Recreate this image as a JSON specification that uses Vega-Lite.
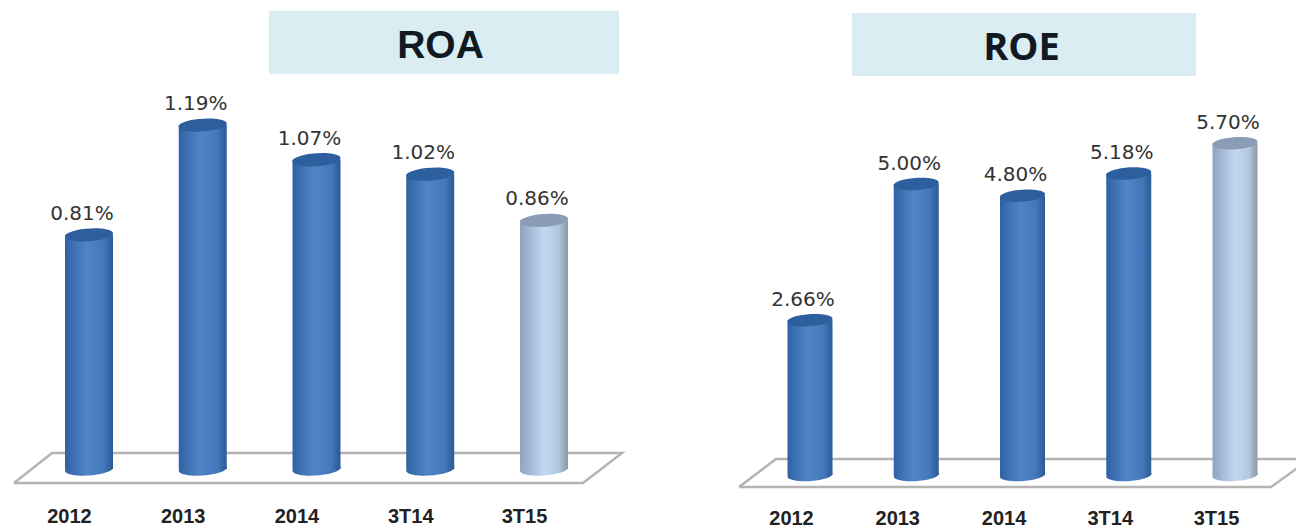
{"$schema":"https://vega.github.io/schema/vega-lite/v6.json","padding":0,"background":"white","spacing":0,"bounds":"flush","config":{"view":{"stroke":null},"concat":{"spacing":0}},
"datasets":{
"roa":[{"period":"2012","idx":0,"value":0.81,"label":"0.81%","group":"a"},{"period":"2013","idx":1,"value":1.19,"label":"1.19%","group":"a"},{"period":"2014","idx":2,"value":1.07,"label":"1.07%","group":"a"},{"period":"3T14","idx":3,"value":1.02,"label":"1.02%","group":"a"},{"period":"3T15","idx":4,"value":0.86,"label":"0.86%","group":"b"}],
"roe":[{"period":"2012","idx":0,"value":2.66,"label":"2.66%","group":"a"},{"period":"2013","idx":1,"value":5.0,"label":"5.00%","group":"a"},{"period":"2014","idx":2,"value":4.8,"label":"4.80%","group":"a"},{"period":"3T14","idx":3,"value":5.18,"label":"5.18%","group":"a"},{"period":"3T15","idx":4,"value":5.7,"label":"5.70%","group":"b"}],
"roaFloor":[{"o":0,"x":-0.659,"y":-0.0484},{"o":1,"x":-0.325,"y":0.0554},{"o":2,"x":4.686,"y":0.0554},{"o":3,"x":4.343,"y":-0.0484},{"o":4,"x":-0.659,"y":-0.0484}],
"roeFloor":[{"o":0,"x":-0.668,"y":-0.206},{"o":1,"x":-0.32,"y":0.275},{"o":2,"x":4.706,"y":0.275},{"o":3,"x":4.339,"y":-0.206},{"o":4,"x":-0.668,"y":-0.206}],
"roaTitle":[{"x":1.582,"x2":4.659,"y":1.586,"y2":1.367,"tx":3.09,"ty":1.4637,"title":"ROA"}],
"roeTitle":[{"x":0.395,"x2":3.633,"y":7.938,"y2":6.856,"tx":1.991,"ty":7.32,"title":"ROE"}]
},
"hconcat":[
{"width":640,"height":495,"layer":[
{"data":{"name":"roaFloor"},"mark":{"type":"line","stroke":"#b4b4b4","strokeWidth":2.5,"clip":true},"encoding":{"x":{"field":"x","type":"quantitative","scale":{"domain":[-0.7824,4.844],"nice":false,"zero":false,"padding":0},"axis":{"values":[0,1,2,3,4],"title":null,"grid":false,"domain":false,"ticks":false,"labelFont":"Liberation Sans","labelFontWeight":"bold","labelFontSize":20,"labelColor":"#222222","labelPadding":11,"labelOffset":-20,"labelFlush":false,"labelExpr":"['2012','2013','2014','3T14','3T15'][datum.value]"}},"y":{"field":"y","type":"quantitative","scale":{"domain":[-0.09,1.6228],"nice":false,"zero":false},"axis":null},"order":{"field":"o","type":"quantitative"}}},
{"data":{"name":"roa"},"mark":{"type":"bar","orient":"vertical","width":48},"encoding":{"x":{"field":"idx","type":"quantitative"},"y":{"field":"value","type":"quantitative"},"y2":{"datum":0},"fill":{"condition":{"test":"datum.group==='b'","value":{"x1":0,"y1":0,"x2":1,"y2":0,"gradient":"linear","stops":[{"offset":0,"color":"#8ea3c0"},{"offset":0.5,"color":"#c2d8f2"},{"offset":0.8,"color":"#b4c8e0"},{"offset":1,"color":"#8a97a8"}]}},"value":{"x1":0,"y1":0,"x2":1,"y2":0,"gradient":"linear","stops":[{"offset":0,"color":"#2f62a4"},{"offset":0.45,"color":"#4f85c8"},{"offset":0.8,"color":"#4378bb"},{"offset":1,"color":"#2c5a94"}]}}}},
{"data":{"name":"roa"},"mark":{"type":"point","filled":true,"opacity":1,"shape":"M-1,0.07A1.003,0.26 -4 1,1 1,-0.07A1.003,0.26 -4 1,1 -1,0.07Z","size":2304},"encoding":{"x":{"field":"idx","type":"quantitative"},"y":{"datum":0},"fill":{"condition":{"test":"datum.group==='b'","value":{"x1":0,"y1":0,"x2":1,"y2":0,"gradient":"linear","stops":[{"offset":0,"color":"#8ea3c0"},{"offset":0.5,"color":"#c2d8f2"},{"offset":0.8,"color":"#b4c8e0"},{"offset":1,"color":"#8a97a8"}]}},"value":{"x1":0,"y1":0,"x2":1,"y2":0,"gradient":"linear","stops":[{"offset":0,"color":"#2f62a4"},{"offset":0.45,"color":"#4f85c8"},{"offset":0.8,"color":"#4378bb"},{"offset":1,"color":"#2c5a94"}]}}}},
{"data":{"name":"roa"},"mark":{"type":"point","filled":true,"opacity":1,"shape":"M-1,0.07A1.003,0.26 -4 1,1 1,-0.07A1.003,0.26 -4 1,1 -1,0.07Z","size":2304},"encoding":{"x":{"field":"idx","type":"quantitative"},"y":{"field":"value","type":"quantitative"},"fill":{"condition":{"test":"datum.group==='b'","value":"#8b9cb6"},"value":"#2d5e9e"}}},
{"data":{"name":"roa"},"mark":{"type":"text","font":"DejaVu Sans","fontSize":20,"color":"#333333","dy":-21,"dx":-7},"encoding":{"x":{"field":"idx","type":"quantitative"},"y":{"field":"value","type":"quantitative"},"text":{"field":"label"}}},
{"data":{"name":"roaTitle"},"mark":{"type":"rect","fill":"#d9edf3"},"encoding":{"x":{"field":"x","type":"quantitative"},"x2":{"field":"x2"},"y":{"field":"y","type":"quantitative"},"y2":{"field":"y2"}}},
{"data":{"name":"roaTitle"},"mark":{"type":"text","font":"Liberation Sans","fontWeight":"bold","fontSize":39,"color":"#111a22"},"encoding":{"x":{"field":"tx","type":"quantitative"},"y":{"field":"ty","type":"quantitative"},"text":{"field":"title"}}}
]},
{"width":656,"height":495,"layer":[
{"data":{"name":"roeFloor"},"mark":{"type":"line","stroke":"#b4b4b4","strokeWidth":2.5,"clip":true},"encoding":{"x":{"field":"x","type":"quantitative","scale":{"domain":[-1.6,4.574],"nice":false,"zero":false,"padding":0},"axis":{"values":[0,1,2,3,4],"title":null,"grid":false,"domain":false,"ticks":false,"labelFont":"Liberation Sans","labelFontWeight":"bold","labelFontSize":20,"labelColor":"#222222","labelPadding":13,"labelOffset":-19,"labelFlush":false,"labelExpr":"['2012','2013','2014','3T14','3T15'][datum.value]"}},"y":{"field":"y","type":"quantitative","scale":{"domain":[-0.3436,8.162],"nice":false,"zero":false},"axis":null},"order":{"field":"o","type":"quantitative"}}},
{"data":{"name":"roe"},"mark":{"type":"bar","orient":"vertical","width":45},"encoding":{"x":{"field":"idx","type":"quantitative"},"y":{"field":"value","type":"quantitative"},"y2":{"datum":0},"fill":{"condition":{"test":"datum.group==='b'","value":{"x1":0,"y1":0,"x2":1,"y2":0,"gradient":"linear","stops":[{"offset":0,"color":"#8ea3c0"},{"offset":0.5,"color":"#c2d8f2"},{"offset":0.8,"color":"#b4c8e0"},{"offset":1,"color":"#8a97a8"}]}},"value":{"x1":0,"y1":0,"x2":1,"y2":0,"gradient":"linear","stops":[{"offset":0,"color":"#2f62a4"},{"offset":0.45,"color":"#4f85c8"},{"offset":0.8,"color":"#4378bb"},{"offset":1,"color":"#2c5a94"}]}}}},
{"data":{"name":"roe"},"mark":{"type":"point","filled":true,"opacity":1,"shape":"M-1,0.07A1.003,0.26 -4 1,1 1,-0.07A1.003,0.26 -4 1,1 -1,0.07Z","size":2025},"encoding":{"x":{"field":"idx","type":"quantitative"},"y":{"datum":0},"fill":{"condition":{"test":"datum.group==='b'","value":{"x1":0,"y1":0,"x2":1,"y2":0,"gradient":"linear","stops":[{"offset":0,"color":"#8ea3c0"},{"offset":0.5,"color":"#c2d8f2"},{"offset":0.8,"color":"#b4c8e0"},{"offset":1,"color":"#8a97a8"}]}},"value":{"x1":0,"y1":0,"x2":1,"y2":0,"gradient":"linear","stops":[{"offset":0,"color":"#2f62a4"},{"offset":0.45,"color":"#4f85c8"},{"offset":0.8,"color":"#4378bb"},{"offset":1,"color":"#2c5a94"}]}}}},
{"data":{"name":"roe"},"mark":{"type":"point","filled":true,"opacity":1,"shape":"M-1,0.07A1.003,0.26 -4 1,1 1,-0.07A1.003,0.26 -4 1,1 -1,0.07Z","size":2025},"encoding":{"x":{"field":"idx","type":"quantitative"},"y":{"field":"value","type":"quantitative"},"fill":{"condition":{"test":"datum.group==='b'","value":"#8b9cb6"},"value":"#2d5e9e"}}},
{"data":{"name":"roe"},"mark":{"type":"text","font":"DejaVu Sans","fontSize":20,"color":"#333333","dy":-20.5,"dx":-7},"encoding":{"x":{"field":"idx","type":"quantitative"},"y":{"field":"value","type":"quantitative"},"text":{"field":"label"}}},
{"data":{"name":"roeTitle"},"mark":{"type":"rect","fill":"#d9edf3"},"encoding":{"x":{"field":"x","type":"quantitative"},"x2":{"field":"x2"},"y":{"field":"y","type":"quantitative"},"y2":{"field":"y2"}}},
{"data":{"name":"roeTitle"},"mark":{"type":"text","font":"Open Sans","fontWeight":"bold","fontSize":38,"color":"#111a22"},"encoding":{"x":{"field":"tx","type":"quantitative"},"y":{"field":"ty","type":"quantitative"},"text":{"field":"title"}}}
]}
]}
